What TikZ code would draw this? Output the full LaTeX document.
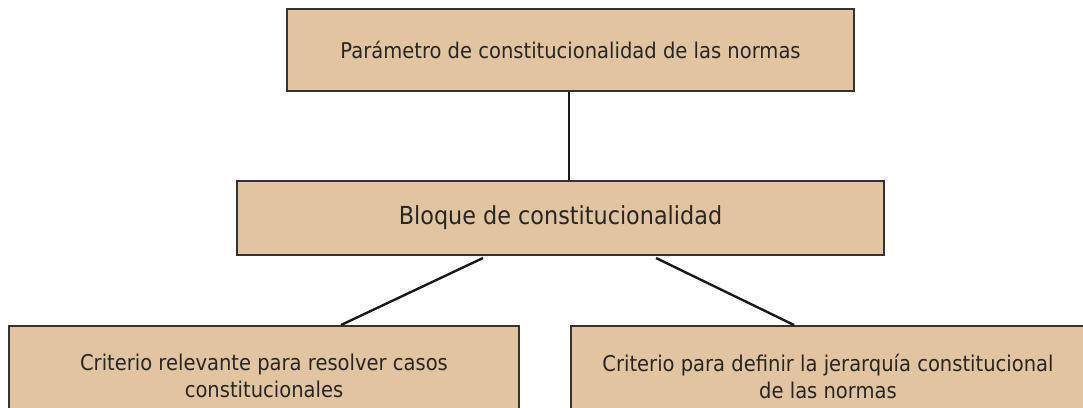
\documentclass[tikz,border=0pt]{standalone}
\usepackage{fontspec}
\setmainfont{DejaVu Sans}[FakeStretch=0.9]
\definecolor{boxfill}{HTML}{E3C4A1}
\definecolor{boxline}{HTML}{333333}
\tikzset{
  chartbox/.style={draw=boxline, line width=1.5pt, fill=boxfill, rectangle, inner sep=0pt, align=center, text=black!85},
  link/.style={draw=black!90, line width=2.4pt}
}
\begin{document}
\begin{tikzpicture}[x=1pt,y=-1pt]
\useasboundingbox (0,0) rectangle (1083,407);
\clip (0,0) rectangle (1083,407);
\node[chartbox, minimum width=567pt, minimum height=82pt, font=\fontsize{21.7}{26}\selectfont] (top) at (570.5,50) {Parámetro de constitucionalidad de las normas};
\node[chartbox, minimum width=647pt, minimum height=74pt, font=\fontsize{24.8}{29}\selectfont] (mid) at (560.5,218) {Bloque de constitucionalidad};
\node[chartbox, minimum width=510pt, minimum height=100pt, font=\fontsize{21.7}{27}\selectfont] (left) at (264,376) {Criterio relevante para resolver casos\\constitucionales};
\node[chartbox, minimum width=514pt, minimum height=100pt, font=\fontsize{21.7}{27}\selectfont] (right) at (828,376) {Criterio para definir la jerarquía constitucional\\de las normas};
\coordinate (ls) at (483,258);
\coordinate (le) at (341,325);
\coordinate (rs) at (656,258);
\coordinate (re) at (794,325);
\draw[link] (top.south -| 569,0) -- (mid.north -| 569,0);
\draw[link] (ls) -- (le);
\draw[link] (rs) -- (re);
\end{tikzpicture}
\end{document}
